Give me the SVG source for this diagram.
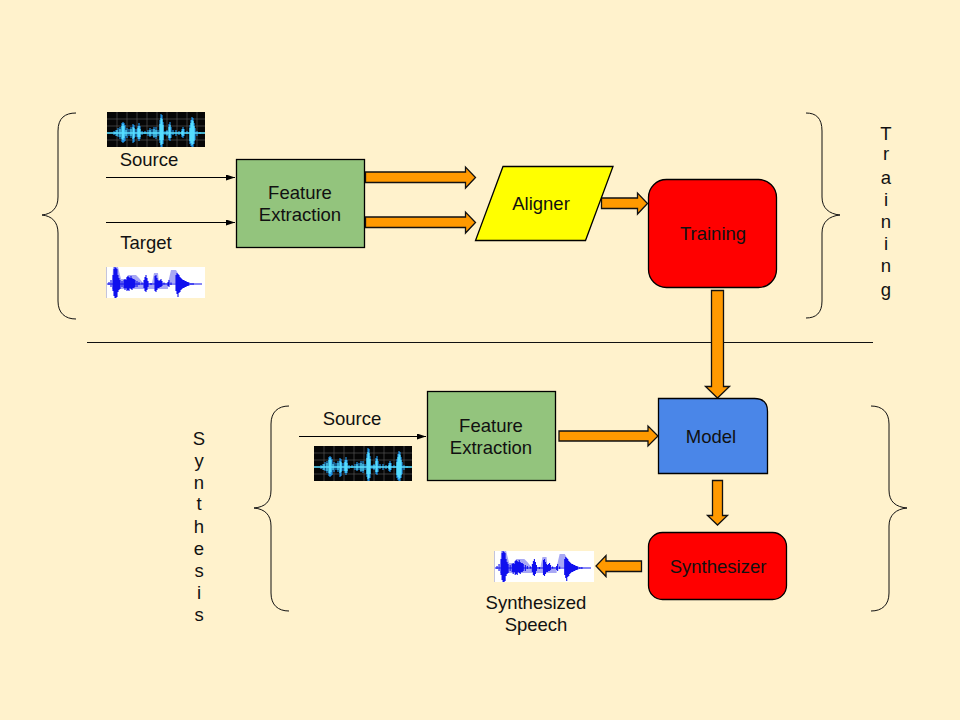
<svg xmlns="http://www.w3.org/2000/svg" width="960" height="720" viewBox="0 0 960 720">
<style>
text{font-family:"Liberation Sans",Arial,sans-serif;font-size:18.500px;fill:#111;text-anchor:middle}
.box{stroke:#000;stroke-width:1.300}
.block{fill:#ff9900;stroke:#111;stroke-width:1.300}
.brace{fill:none;stroke:#111;stroke-width:1}
.line{fill:none;stroke:#000;stroke-width:1}
</style>
<defs>
<marker id="tip" markerWidth="9" markerHeight="6" refX="9" refY="3" orient="auto" markerUnits="userSpaceOnUse"><path d="M0 0L9 3L0 6Z" fill="#000"/></marker>
<symbol id="darkwave" viewBox="0 0 98 35" preserveAspectRatio="none">
<rect width="98" height="35" fill="#060606"/>
<path d="M0 7H98M0 14H98M0 21H98M0 28H98M10 0V35M20 0V35M30 0V35M40 0V35M50 0V35M60 0V35M70 0V35M80 0V35M90 0V35" stroke="#555" stroke-width=".7"/>
<path d="M7 19V23M9 18V24M11 16V25M13 15V27M15 11V30M16 10V31M17 11V30M18 13V29M20 16V26M22 17V24M24 15V26M26 12V31M27 13V30M28 17V25M30 17V25M31 14V27M32 11V29M33 14V27M35 19V23M38 19V22M41 18V24M43 16V25M45 17V24M47 15V26M49 15V27M51 18V24M53 8V31M54 2V35M55 3V35M56 10V32M58 19V23M60 18V24M62 12V28M63 10V29M64 15V26M66 18V23M69 18V24M72 19V23M75 17V25M76 15V26M77 17V24M80 19V22M83 13V32M84 8V34M85 5V35M86 6V35M87 11V32M88 16V28M90 19V24M93 20V22" stroke="#1f8fe0" stroke-width="1.200"/>
<path d="M0 21H98" stroke="#55ddff" stroke-width="1.400"/>
<path d="M8 20V22M10 18V24M13 17V25M15 14V27M16 12V28M17 14V26M19 18V24M24 17V24M26 15V27M27 16V26M31 16V25M32 14V27M33 17V25M43 18V24M47 17V25M49 18V25M53 12V28M54 6V33M55 7V32M56 13V28M60 19V23M62 15V26M63 13V26M75 19V23M76 17V24M83 16V29M84 11V31M85 8V33M86 9V32M87 14V29" stroke="#55ddff" stroke-width="1.200"/>
</symbol>
<symbol id="lightwave" viewBox="0 0 99 31" preserveAspectRatio="none">
<rect width="99" height="31" fill="#fff"/>
<path d="M.5 0V31" stroke="#c4c4dc" stroke-width="1"/>
<path d="M7 0H12L15 12L20 12L22 8H30L33 11L37 16H46L48 6H52L53 16H62L65 3H70L75 12L79 16H62V22H6Z" fill="#a8a8f4"/>
<path d="M3 15V18M5 13V20M7 8V24M8 2V29M9 0V31M10 1V31M11 2V30M12 8V25M13 11V23M14 13V22M16 14V20M18 13V21M19 12V23M20 13V21M21 10V24M22 9V23M23 10V24M24 11V21M25 9V22M26 11V23M27 12V21M28 12V21M29 13V20M31 14V20M33 15V18M36 15.500V17.500M38 13V21M39 10V24M40 8V25M41 11V23M42 14V20M45 16V18M49 9V24M50 8V25M51 11V23M52 13V21M53 14V21M54 13V20M55 12V20M56 14V19M58 15.500V17.500M62 15V19M63 13V20M65 15.500V18M70 8V24M71 6V27M72 7V30M73 8V26M74 10V25M75 11V23M76 12V22M77 13V21M78 13V21M79 14V20M80 14V20M81 15V19M82 15V19M83 15.500V18.500M85 16V18M87 16V18" stroke="#1010ee" stroke-width="1.100"/>
<path d="M1 17H96" stroke="#1010ee" stroke-width="1"/>
</symbol>
</defs>
<rect width="960" height="720" fill="#fff2cc"/>
<use href="#darkwave" x="107" y="112" width="98" height="35"/>
<use href="#lightwave" x="106" y="267" width="99" height="31"/>
<use href="#darkwave" x="314" y="446" width="98" height="35"/>
<use href="#lightwave" x="494" y="551" width="100" height="31"/>
<g id="connectors">
<line class="line" x1="106" y1="177.500" x2="235" y2="177.500" marker-end="url(#tip)"/>
<line class="line" x1="106" y1="222.500" x2="235" y2="222.500" marker-end="url(#tip)"/>
<line class="line" x1="299" y1="436.500" x2="426" y2="436.500" marker-end="url(#tip)"/>
<line x1="87" y1="342.500" x2="873" y2="342.500" stroke="#111" stroke-width="1"/>
<path class="block" d="M365.500 172H465.500V167L475.500 177.500L465.500 188V182.500H365.500Z"/>
<path class="block" d="M365.500 217H465.500V212L475.500 222.500L465.500 233V227.500H365.500Z"/>
<path class="block" d="M601.500 198H637.500V193L647.500 203.500L637.500 214V208.500H601.500Z"/>
<path class="block" d="M711.500 290.500H723.500V386.500H729.500L717.500 398L705.500 386.500H711.500Z"/>
<path class="block" d="M559 431H648V426L658 436L648 446V441H559Z"/>
<path class="block" d="M712.500 480.500H722.500V515.500H727.500L717.500 525L707.500 515.500H712.500Z"/>
<path class="block" d="M641.500 561V571.500H606V576.500L596 566L606 555.500V561Z"/>
</g>
<g id="source-brace"><path class="brace" d="M76 113C65 113 58 118 58 131V197C58 208 52 214 42 215C52 216 58 222 58 233V301C58 313 65 319 76 319"/></g>
<g id="training-brace"><path class="brace" d="M806 113C816 113 822 118 822 131V197C822 208 829 214 840 215C829 216 822 222 822 233V301C822 313 816 318 806 318"/></g>
<g id="synthesis-brace-left"><path class="brace" d="M289 406C278 406 271 412 271 424V490C271 502 265 507 254 508C265 509 271 515 271 526V593C271 605 278 611 289 611"/></g>
<g id="synthesis-brace-right"><path class="brace" d="M871 406C882 406 889 412 889 424V490C889 502 896 507 907 508C896 509 889 515 889 526V593C889 605 882 611 871 611"/></g>
<g id="feature-extraction-1"><rect class="box" x="236.500" y="159.500" width="128" height="88" fill="#93c47d"/><text x="300" y="199">Feature</text><text x="300" y="221">Extraction</text></g>
<g id="aligner"><path class="box" d="M503 166.500H613L585.500 240.500H475.500Z" fill="#ffff00"/><text x="541" y="210">Aligner</text></g>
<g id="training"><rect class="box" x="648.500" y="179.500" width="128" height="108" rx="18" fill="#ff0000"/><text x="713" y="240">Training</text></g>
<g id="feature-extraction-2"><rect class="box" x="427.500" y="391.500" width="128" height="89" fill="#93c47d"/><text x="491" y="432">Feature</text><text x="491" y="454">Extraction</text></g>
<g id="model"><path class="box" d="M658.500 398.500H754.500Q767.500 398.500 767.500 411.500V473.500H658.500Z" fill="#4a86e8"/><text x="711" y="443">Model</text></g>
<g id="synthesizer"><rect class="box" x="648.500" y="532.500" width="138" height="67" rx="14" fill="#ff0000"/><text x="718" y="573">Synthesizer</text></g>
<g id="labels">
<text x="149" y="166">Source</text>
<text x="146" y="249">Target</text>
<text x="352" y="425">Source</text>
<text x="536" y="609">Synthesized</text>
<text x="536" y="631">Speech</text>
<text x="886" y="140">T</text><text x="886" y="160">r</text><text x="886" y="184">a</text><text x="886" y="206">i</text><text x="886" y="228">n</text><text x="886" y="250">i</text><text x="886" y="272">n</text><text x="886" y="296">g</text>
<text x="199" y="445">S</text><text x="199" y="467">y</text><text x="199" y="489">n</text><text x="199" y="510">t</text><text x="199" y="533">h</text><text x="199" y="555">e</text><text x="199" y="577">s</text><text x="199" y="599">i</text><text x="199" y="621">s</text>
</g>
</svg>
